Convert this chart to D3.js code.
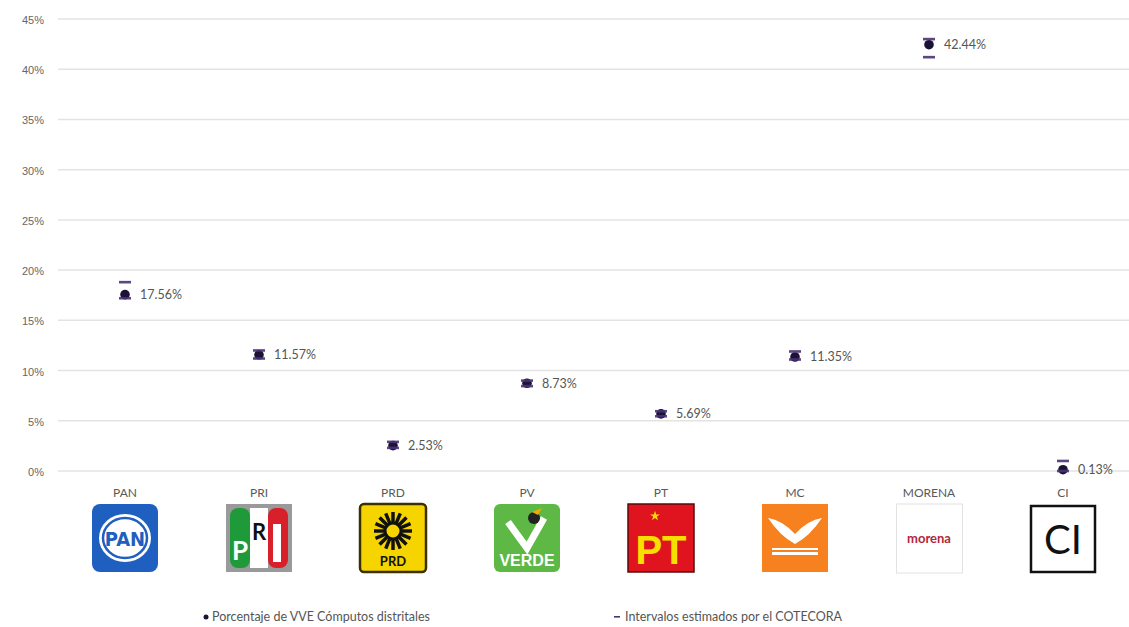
<!DOCTYPE html>
<html><head><meta charset="utf-8">
<script src="https://cdn.jsdelivr.net/npm/d3@7"></script>
<style>body{margin:0;background:#fff}svg{display:block;font-family:Lato,"Open Sans",sans-serif}</style>
</head><body><svg id="c" width="1129" height="627"></svg>
<script>
const categories = ["PAN","PRI","PRD","PV","PT","MC","MORENA","CI"];
const values = [17.56, 11.57, 2.53, 8.73, 5.69, 11.35, 42.44, 0.13];
const lower = [17.2, 11.2, 2.3, 8.45, 5.45, 11.1, 41.2, 0.0];
const upper = [18.8, 12.0, 2.9, 9.0, 5.95, 11.9, 43.0, 1.0];
const yTicks = [0,5,10,15,20,25,30,35,40,45];
const legendLabels = ["Porcentaje de VVE Cómputos distritales","Intervalos estimados por el COTECORA"];

const svg = d3.select("#c");
const x = d3.scaleBand().domain(categories).range([58,1130]);
const y = d3.scaleLinear().domain([0,45]).range([471,19]);
const cx = c => x(c) + x.bandwidth()/2;

// grid
svg.append("g").selectAll("line").data(yTicks).join("line")
  .attr("x1",58).attr("x2",1129).attr("y1",d=>y(d)).attr("y2",d=>y(d))
  .attr("stroke","#e3e3e3").attr("stroke-width",1.5);

// y axis labels
const ya = svg.append("g").attr("transform","translate(44,1)")
  .call(d3.axisLeft(y).tickValues(yTicks).tickSize(0).tickPadding(0).tickFormat(d=>d+"%"));
ya.select(".domain").remove();
ya.selectAll("text").attr("fill","#666").attr("font-size",11);

// category labels
svg.append("g").selectAll("text").data(categories).join("text")
  .attr("x",d=>cx(d)).attr("y",497).attr("text-anchor","middle")
  .attr("fill","#595959").attr("font-size",12).text(d=>d);

// points
const pts = categories.map((c,i)=>({c,v:values[i],lo:lower[i],hi:upper[i]}));
const g = svg.append("g");
g.selectAll("circle").data(pts).join("circle")
  .attr("cx",d=>cx(d.c)).attr("cy",d=>y(d.v)).attr("r",4.8).attr("fill","#1c1236");
["lo","hi"].forEach(k=>{
  g.selectAll("rect."+k).data(pts).join("rect").attr("class",k)
    .attr("x",d=>cx(d.c)-6).attr("y",d=>y(d[k])-1.3).attr("width",12).attr("height",2.6)
    .attr("fill","#4a3275").attr("opacity",0.9);
});
g.selectAll("text").data(pts).join("text")
  .attr("x",d=>cx(d.c)+15).attr("y",d=>y(d.v)+4.5)
  .attr("fill","#555").attr("font-size",12.5).text(d=>d.v.toFixed(2)+"%");

// logos (simplified)
const L = svg.append("g");
function box(c){ return {x: cx(c)-33, y: 504, w: 66, h: 68}; }
let b;
// PAN
b = box("PAN");
L.append("rect").attr("x",b.x).attr("y",b.y).attr("width",b.w).attr("height",b.h).attr("rx",8).attr("fill","#1f5fbf");
L.append("ellipse").attr("cx",b.x+33).attr("cy",b.y+34).attr("rx",26).attr("ry",24).attr("fill","#fff");
L.append("ellipse").attr("cx",b.x+33).attr("cy",b.y+34).attr("rx",22).attr("ry",20).attr("fill","none").attr("stroke","#1f5fbf").attr("stroke-width",2.5);
L.append("text").attr("x",b.x+33).attr("y",b.y+42).attr("text-anchor","middle").attr("font-size",20).attr("font-weight","bold").attr("fill","#1f5fbf").attr("font-family","Liberation Sans Narrow, DejaVu Sans Condensed, sans-serif").text("PAN");
// PRI
b = box("PRI");
L.append("rect").attr("x",b.x).attr("y",b.y).attr("width",b.w).attr("height",b.h).attr("fill","#9a9a9a");
L.append("rect").attr("x",b.x+4).attr("y",b.y+4).attr("width",20).attr("height",b.h-8).attr("rx",8).attr("fill","#1f9a3a");
L.append("rect").attr("x",b.x+24).attr("y",b.y+4).attr("width",18).attr("height",b.h-8).attr("fill","#fff");
L.append("rect").attr("x",b.x+42).attr("y",b.y+4).attr("width",20).attr("height",b.h-8).attr("rx",8).attr("fill","#d8202a");
L.append("text").attr("x",b.x+14).attr("y",b.y+56).attr("text-anchor","middle").attr("font-size",26).attr("font-weight","bold").attr("fill","#fff").text("P");
L.append("text").attr("x",b.x+33).attr("y",b.y+36).attr("text-anchor","middle").attr("font-size",22).attr("font-weight","bold").attr("fill","#111").text("R");
L.append("rect").attr("x",b.x+47).attr("y",b.y+20).attr("width",8).attr("height",38).attr("fill","#fff");
// PRD
b = box("PRD");
L.append("rect").attr("x",b.x).attr("y",b.y).attr("width",b.w).attr("height",b.h).attr("rx",4).attr("fill","#f5d400").attr("stroke","#3a3000").attr("stroke-width",2.5);
const sun = L.append("g").attr("transform",`translate(${b.x+33},${b.y+27})`);
d3.range(16).forEach(i=>{const a=i*Math.PI/8; sun.append("line").attr("x1",Math.cos(a)*8).attr("y1",Math.sin(a)*8).attr("x2",Math.cos(a)*19).attr("y2",Math.sin(a)*19).attr("stroke","#111").attr("stroke-width",3.5);});
sun.append("circle").attr("r",8).attr("fill","#f5d400").attr("stroke","#111").attr("stroke-width",3);
L.append("text").attr("x",b.x+33).attr("y",b.y+62).attr("text-anchor","middle").attr("font-size",13).attr("font-weight","bold").attr("fill","#111").text("PRD");
// PV
b = box("PV");
L.append("rect").attr("x",b.x).attr("y",b.y).attr("width",b.w).attr("height",b.h).attr("rx",6).attr("fill","#5db845");
L.append("path").attr("d",`M${b.x+14},${b.y+18} L${b.x+33},${b.y+44} L${b.x+50},${b.y+14}`).attr("fill","none").attr("stroke","#fff").attr("stroke-width",7);
L.append("circle").attr("cx",b.x+40).attr("cy",b.y+14).attr("r",6).attr("fill","#222");
L.append("path").attr("d",`M${b.x+38},${b.y+8} L${b.x+48},${b.y+4} L${b.x+44},${b.y+11}Z`).attr("fill","#f2a900");
L.append("text").attr("x",b.x+33).attr("y",b.y+62).attr("text-anchor","middle").attr("font-size",16).attr("font-weight","bold").attr("fill","#fff").attr("font-family","Liberation Sans Narrow, sans-serif").text("VERDE");
// PT
b = box("PT");
L.append("rect").attr("x",b.x).attr("y",b.y).attr("width",b.w).attr("height",b.h).attr("fill","#e0141e").attr("stroke","#5a0a0a").attr("stroke-width",1.5);
L.append("text").attr("x",b.x+33).attr("y",b.y+60).attr("text-anchor","middle").attr("font-size",40).attr("font-weight","bold").attr("fill","#f7e000").attr("font-family","Liberation Sans Narrow, sans-serif").text("PT");
L.append("path").attr("d",d3.symbol(d3.symbolStar,30)()).attr("transform",`translate(${b.x+27},${b.y+12})`).attr("fill","#f7e000");
// MC
b = box("MC");
L.append("rect").attr("x",b.x).attr("y",b.y).attr("width",b.w).attr("height",b.h).attr("fill","#f7801f");
L.append("path").attr("d",`M${b.x+6},${b.y+14} Q${b.x+20},${b.y+16} ${b.x+33},${b.y+30} Q${b.x+46},${b.y+16} ${b.x+60},${b.y+14} Q${b.x+48},${b.y+32} ${b.x+33},${b.y+40} Q${b.x+18},${b.y+32} ${b.x+6},${b.y+14}Z`).attr("fill","#fff");
L.append("rect").attr("x",b.x+10).attr("y",b.y+44).attr("width",46).attr("height",2).attr("fill","#fff");
L.append("rect").attr("x",b.x+10).attr("y",b.y+48).attr("width",46).attr("height",3).attr("fill","#fff");
// MORENA
b = box("MORENA");
L.append("rect").attr("x",b.x+0.5).attr("y",b.y).attr("width",b.w).attr("height",b.h+1).attr("fill","#fff").attr("stroke","#e2e2e2");
L.append("text").attr("x",b.x+33).attr("y",b.y+39).attr("text-anchor","middle").attr("font-size",13).attr("font-weight","bold").attr("fill","#b0283a").text("morena");
// CI
b = box("CI");
L.append("rect").attr("x",b.x+1).attr("y",b.y+2).attr("width",b.w-2).attr("height",b.h-2).attr("fill","#fff").attr("stroke","#111").attr("stroke-width",2.5);
L.append("text").attr("x",b.x+33).attr("y",b.y+50).attr("text-anchor","middle").attr("font-size",40).attr("fill","#111").text("CI");

// legend
const lg = svg.append("g").attr("font-size",12.5).attr("fill","#555");
lg.append("circle").attr("cx",206).attr("cy",617).attr("r",2.5).attr("fill","#1c1236");
lg.append("text").attr("x",212).attr("y",621).text(legendLabels[0]);
lg.append("rect").attr("x",614).attr("y",616).attr("width",6).attr("height",1.6).attr("fill","#4a3275");
lg.append("text").attr("x",625).attr("y",621).text(legendLabels[1]);
</script></body></html>
